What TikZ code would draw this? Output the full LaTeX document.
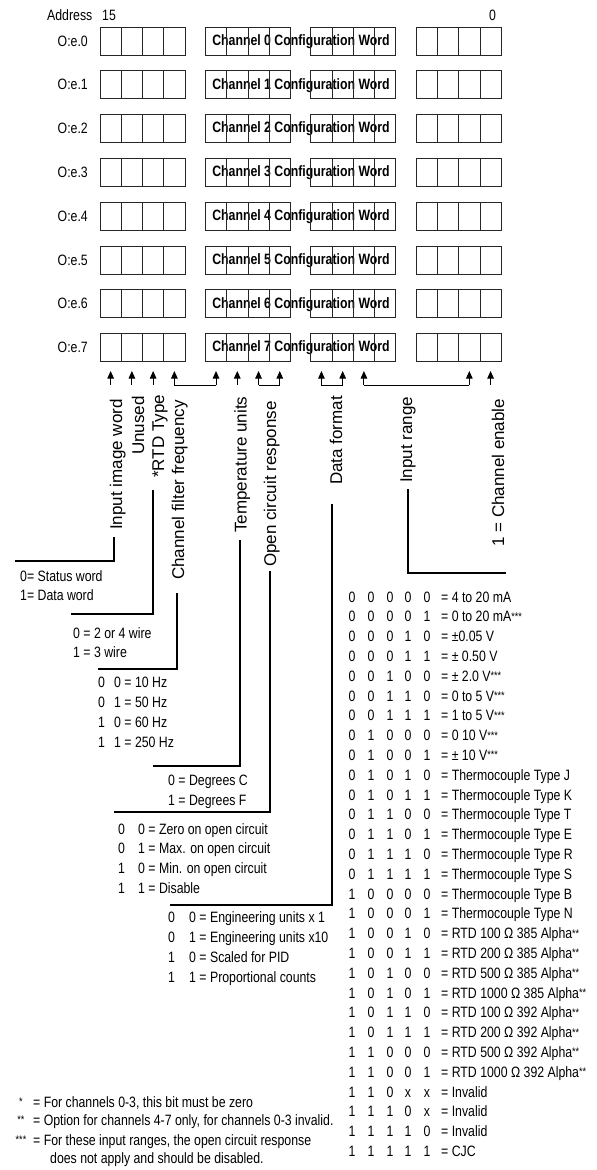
\documentclass[tikz,border=0pt]{standalone}
\usepackage{fontspec}
\setmainfont{Liberation Sans}
\newfontfamily\narrowfont{Liberation Sans}[FakeStretch=0.82]
\usetikzlibrary{arrows.meta}
\newcommand\stars[1]{\raisebox{1.5pt}{\fontsize{11}{11}\selectfont #1}}
\tikzset{
  cellbox/.style={draw=black!85, line width=0.8pt, minimum width=21.25pt, minimum height=28pt, inner sep=0pt, outer sep=0pt, anchor=north west},
  nar/.style={font=\narrowfont\fontsize{15}{18}\selectfont, inner sep=0pt, anchor=base west},
  chantext/.style={font=\narrowfont\bfseries\fontsize{15}{18}\selectfont, inner sep=0pt},
  vlab/.style={font=\fontsize{17}{20}\selectfont, rotate=90, anchor=base west, inner sep=0pt},
  conn/.style={line width=1.3pt},
  bitarrow/.style={-{Triangle[width=6.5pt,length=7.5pt]}, line width=0.9pt},
  bracket/.style={line width=0.9pt}
}
\begin{document}
\begin{tikzpicture}[x=1pt,y=-1pt]
\fill[white] (0,0) rectangle (597,1170);
\useasboundingbox (0,0) rectangle (597,1170);

% header
\node[nar] (addr) at (47,20) {Address};
\node[nar] (b15) at (102,20) {15};
\node[nar] (b0) at (489,20) {0};

% rows of boxes
\foreach \r in {0,...,7}{
  \pgfmathsetmacro\rowy{27+43.8*\r}
  \node[nar, anchor=base east] (row\r) at (88,\rowy+19) {O:e.\r};
  \node[chantext] (cw\r) at (301,\rowy+14.5) {Channel \r{} Configuration Word};
  \foreach \g in {0,...,3}{
    \foreach \c in {0,...,3}{
      \pgfmathtruncatemacro\bit{15-4*\g-\c}
      \node[cellbox] (c\r-\bit) at ({100+105.4*\g+21.25*\c},\rowy) {};
    }
  }
}

% bit arrows
\foreach \b in {15,14,13,12,11,10,9,8,7,6,5,1,0}{
  \coordinate (a\b) at ([yshift=-23.4pt]c7-\b.south);
  \coordinate (t\b) at ([yshift=-9.4pt]c7-\b.south);
  \draw[bitarrow] (a\b) -- (t\b);
}
\draw[bracket] (a12) -- (a11);
\draw[bracket] (a9) -- (a8);
\draw[bracket] (a7) -- (a6);
\draw[bracket] (a5) -- (a1);

% rotated labels
\node[vlab] (Liw) at (122,530) {Input image word};
\node[vlab] (Lun) at (144,455) {Unused};
\node[vlab] (Lrtd) at (164,478) {*RTD Type};
\node[vlab] (Lcf) at (184,580) {Channel filter frequency};
\node[vlab] (Ltu) at (246.5,533) {Temperature units};
\node[vlab] (Loc) at (276,567) {Open circuit response};
\node[vlab] (Ldf) at (342,485) {Data format};
\node[vlab] (Lir) at (412,483) {Input range};
\node[vlab] (Lce) at (504,547) {1 = Channel enable};

% connector coordinates
\coordinate (iwA) at (114,537); \coordinate (iwB) at (114,561); \coordinate (iwC) at (15,561);
\coordinate (rtA) at (153,490); \coordinate (rtB) at (153,614); \coordinate (rtC) at (71,614);
\coordinate (cfA) at (177,593); \coordinate (cfB) at (177,669); \coordinate (cfC) at (98,669);
\coordinate (tuA) at (240,540); \coordinate (tuB) at (240,766); \coordinate (tuC) at (153,766);
\coordinate (ocA) at (270,571); \coordinate (ocB) at (270,812); \coordinate (ocC) at (114,812);
\coordinate (dfA) at (332,504); \coordinate (dfB) at (332,905); \coordinate (dfC) at (170,905);
\coordinate (irA) at (408,489); \coordinate (irB) at (408,573); \coordinate (irC) at (506,573);
\draw[conn] (iwA) -- (iwB) -- (iwC);
\draw[conn] (rtA) -- (rtB) -- (rtC);
\draw[conn] (cfA) -- (cfB) -- (cfC);
\draw[conn] (tuA) -- (tuB) -- (tuC);
\draw[conn] (ocA) -- (ocB) -- (ocC);
\draw[conn] (dfA) -- (dfB) -- (dfC);
\draw[conn] (irA) -- (irB) -- (irC);

% input image word
\node[nar] (sw0) at (20,581) {0= Status word};
\node[nar] (sw1) at (20,600) {1= Data word};
% RTD type
\node[nar] (rt0) at (73,638) {0 = 2 or 4 wire};
\node[nar] (rt1) at (73,657) {1 = 3 wire};
% filter
\foreach \i/\d/\t in {0/0/0 = 10 Hz,1/0/1 = 50 Hz,2/1/0 = 60 Hz,3/1/1 = 250 Hz}{
  \node[nar] (cfd\i) at (98,687+20*\i) {\d};
  \node[nar] (cft\i) at (114,687+20*\i) {\t};
}
% temperature
\node[nar] (tu0) at (168,785) {0 = Degrees C};
\node[nar] (tu1) at (168,805) {1 = Degrees F};
% open circuit
\foreach \i/\d/\t in {0/0/0 = Zero on open circuit,1/0/1 = Max. on open circuit,2/1/0 = Min. on open circuit,3/1/1 = Disable}{
  \node[nar] (ocd\i) at (118,834+19.7*\i) {\d};
  \node[nar] (oct\i) at (138,834+19.7*\i) {\t};
}
% data format
\foreach \i/\d/\t in {0/0/0 = Engineering units x 1,1/0/1 = Engineering units x10,2/1/0 = Scaled for PID,3/1/1 = Proportional counts}{
  \node[nar] (dfd\i) at (168,922+20.2*\i) {\d};
  \node[nar] (dft\i) at (189,922+20.2*\i) {\t};
}
% input range table
\foreach \i/\pa/\pb/\pc/\pd/\pe/\t in {
 0/0/0/0/0/0/{= 4 to 20 mA},
 1/0/0/0/0/1/{= 0 to 20 mA\stars{***}},
 2/0/0/0/1/0/{= ±0.05 V},
 3/0/0/0/1/1/{= ± 0.50 V},
 4/0/0/1/0/0/{= ± 2.0 V\stars{***}},
 5/0/0/1/1/0/{= 0 to 5 V\stars{***}},
 6/0/0/1/1/1/{= 1 to 5 V\stars{***}},
 7/0/1/0/0/0/{= 0 10 V\stars{***}},
 8/0/1/0/0/1/{= ± 10 V\stars{***}},
 9/0/1/0/1/0/{= Thermocouple Type J},
 10/0/1/0/1/1/{= Thermocouple Type K},
 11/0/1/1/0/0/{= Thermocouple Type T},
 12/0/1/1/0/1/{= Thermocouple Type E},
 13/0/1/1/1/0/{= Thermocouple Type R},
 14/0/1/1/1/1/{= Thermocouple Type S},
 15/1/0/0/0/0/{= Thermocouple Type B},
 16/1/0/0/0/1/{= Thermocouple Type N},
 17/1/0/0/1/0/{= RTD 100 Ω 385 Alpha\stars{**}},
 18/1/0/0/1/1/{= RTD 200 Ω 385 Alpha\stars{**}},
 19/1/0/1/0/0/{= RTD 500 Ω 385 Alpha\stars{**}},
 20/1/0/1/0/1/{= RTD 1000 Ω 385 Alpha\stars{**}},
 21/1/0/1/1/0/{= RTD 100 Ω 392 Alpha\stars{**}},
 22/1/0/1/1/1/{= RTD 200 Ω 392 Alpha\stars{**}},
 23/1/1/0/0/0/{= RTD 500 Ω 392 Alpha\stars{**}},
 24/1/1/0/0/1/{= RTD 1000 Ω 392 Alpha\stars{**}},
 25/1/1/0/x/x/{= Invalid},
 26/1/1/1/0/x/{= Invalid},
 27/1/1/1/1/0/{= Invalid},
 28/1/1/1/1/1/{= CJC}}{
  \pgfmathsetmacro\ry{602+19.8*\i}
  \node[nar, anchor=base] (ira\i) at (352,\ry) {\pa};
  \node[nar, anchor=base] (irb\i) at (371,\ry) {\pb};
  \node[nar, anchor=base] (irc\i) at (390,\ry) {\pc};
  \node[nar, anchor=base] (ird\i) at (408,\ry) {\pd};
  \node[nar, anchor=base] (ire\i) at (427,\ry) {\pe};
  \node[nar] (irt\i) at (441,\ry) {\t};
}

% footnotes
\node[nar, anchor=base] (fs1) at (21,1107) {\stars{*}};
\node[nar, anchor=base] (fs2) at (21,1125) {\stars{**}};
\node[nar, anchor=base] (fs3) at (21,1145) {\stars{***}};
\node[nar] (fn1) at (33,1107) {= For channels 0-3, this bit must be zero};
\node[nar] (fn2) at (33,1125) {= Option for channels 4-7 only, for channels 0-3 invalid.};
\node[nar] (fn3) at (33,1145) {= For these input ranges, the open circuit response};
\node[nar] (fn4) at (50,1163) {does not apply and should be disabled.};
\end{tikzpicture}
\end{document}
